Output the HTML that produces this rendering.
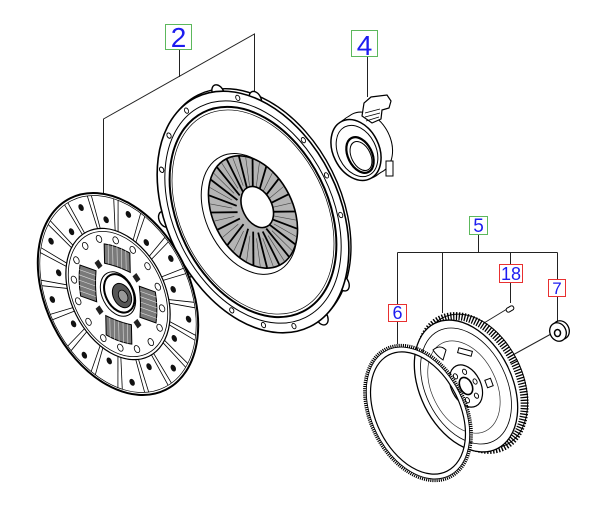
<!DOCTYPE html>
<html><head><meta charset="utf-8"><style>
html,body{margin:0;padding:0;background:#fff;}
svg{display:block}
text{font-family:"Liberation Sans",Arial,sans-serif;fill:#1c1cf0;text-anchor:middle}
</style></head><body>
<svg width="600" height="511" viewBox="0 0 600 511" xmlns="http://www.w3.org/2000/svg">
<defs>
<line id="rl" x1="0.65" y1="0" x2="0.975" y2="0" stroke="#000" stroke-width="0.8" vector-effect="non-scaling-stroke"/>
<g id="rp"><use href="#rl" transform="rotate(-1.6)"/><use href="#rl" transform="rotate(1.6)"/></g>
<circle id="d1" cx="0.74" cy="0" r="0.034" fill="#111"/>
<circle id="d2" cx="0.88" cy="0" r="0.034" fill="#111"/>
<circle id="h1" cx="0.55" cy="0" r="0.035" fill="#fff" stroke="#000" stroke-width="0.8" vector-effect="non-scaling-stroke"/>
<g id="sp">
<path d="M0.27,-0.16 L0.47,-0.16 Q0.5,0 0.47,0.16 L0.27,0.16 Q0.29,0 0.27,-0.16 Z" fill="#7a7a7a" stroke="#000" stroke-width="1" vector-effect="non-scaling-stroke"/>
<path d="M0.28,-0.11 L0.48,-0.11 M0.28,-0.055 L0.485,-0.055 M0.285,0 L0.49,0 M0.28,0.055 L0.485,0.055 M0.28,0.11 L0.48,0.11" stroke="#ddd" stroke-width="0.6" fill="none" vector-effect="non-scaling-stroke"/>
</g>
<rect id="rv" x="0.3" y="-0.035" width="0.07" height="0.07" fill="#222"/>
<circle id="ph" cx="0.955" cy="0" r="0.022" fill="#fff" stroke="#000" stroke-width="0.9" vector-effect="non-scaling-stroke"/>
<line id="pf" x1="0.17" y1="0" x2="0.46" y2="0" stroke="#000" stroke-width="1.8" vector-effect="non-scaling-stroke"/>
<line id="pf2" x1="0.22" y1="0" x2="0.46" y2="0" stroke="#444" stroke-width="0.6" vector-effect="non-scaling-stroke"/>
<circle id="lug" cx="0.99" cy="0" r="0.065" fill="#fff" stroke="#000" stroke-width="1.4" vector-effect="non-scaling-stroke"/>
<circle id="fb" cx="0.22" cy="0" r="0.04" fill="#fff" stroke="#000" stroke-width="0.9" vector-effect="non-scaling-stroke"/>
</defs>

<!-- leader lines -->
<g stroke="#222" stroke-width="1" fill="none">
<path d="M179.5,50 V77 M103.5,196 V119 L254.5,34 V97"/>
<path d="M367.5,57 V97"/>
<path d="M478.5,234 V252.5 M397.5,252.5 H557.5 M397.5,252.5 V304 M442.5,252.5 V313 M510.5,252.5 V264 M557.5,252.5 V279"/>
<path d="M510.5,283 V303 M557.5,297 V322 M397.5,322 V344"/>
<path d="M507,309 L484,323 M551,334 L511,356"/>
</g>

<!-- pressure plate -->
<g transform="translate(253 212) rotate(-26.5) scale(86 128)">
<circle cx="0.035" cy="-0.01" r="1" fill="#fff" stroke="#000" stroke-width="1.4" vector-effect="non-scaling-stroke"/>
<use href="#lug" transform="rotate(-75)"/><use href="#lug" transform="rotate(-52)"/><use href="#lug" transform="rotate(55)"/>
<use href="#lug" transform="rotate(80)"/><use href="#lug" transform="rotate(170)"/><use href="#lug" transform="rotate(195)"/>
<circle r="1" fill="#fff" stroke="#000" stroke-width="1.6" vector-effect="non-scaling-stroke"/>
<circle r="0.92" fill="none" stroke="#000" stroke-width="1" vector-effect="non-scaling-stroke"/>
<use href="#ph" transform="rotate(0)"/><use href="#ph" transform="rotate(20)"/><use href="#ph" transform="rotate(-20)"/>
<use href="#ph" transform="rotate(-100)"/><use href="#ph" transform="rotate(-120)"/><use href="#ph" transform="rotate(120)"/>
<use href="#ph" transform="rotate(140)"/><use href="#ph" transform="rotate(100)"/><use href="#ph" transform="rotate(220)"/>
<use href="#ph" transform="rotate(240)"/><use href="#ph" transform="rotate(-140)"/><use href="#ph" transform="rotate(-63)"/>
<circle r="0.87" fill="#fff" stroke="#000" stroke-width="2" vector-effect="non-scaling-stroke"/>
<circle r="0.845" fill="none" stroke="#000" stroke-width="0.7" vector-effect="non-scaling-stroke"/>
<circle cx="-0.05" r="0.5" fill="none" stroke="#000" stroke-width="1" vector-effect="non-scaling-stroke"/>
<circle r="0.465" fill="#b4b4b4" stroke="#000" stroke-width="1.6" vector-effect="non-scaling-stroke"/>
<use href="#pf" transform="rotate(0)"/><use href="#pf" transform="rotate(18)"/><use href="#pf" transform="rotate(36)"/>
<use href="#pf" transform="rotate(54)"/><use href="#pf" transform="rotate(72)"/><use href="#pf" transform="rotate(90)"/>
<use href="#pf" transform="rotate(108)"/><use href="#pf" transform="rotate(126)"/><use href="#pf" transform="rotate(144)"/>
<use href="#pf" transform="rotate(162)"/><use href="#pf" transform="rotate(180)"/><use href="#pf" transform="rotate(198)"/>
<use href="#pf" transform="rotate(216)"/><use href="#pf" transform="rotate(234)"/><use href="#pf" transform="rotate(252)"/>
<use href="#pf" transform="rotate(270)"/><use href="#pf" transform="rotate(288)"/><use href="#pf" transform="rotate(306)"/>
<use href="#pf" transform="rotate(324)"/><use href="#pf" transform="rotate(342)"/>
<use href="#pf2" transform="rotate(9)"/><use href="#pf2" transform="rotate(27)"/><use href="#pf2" transform="rotate(45)"/>
<use href="#pf2" transform="rotate(63)"/><use href="#pf2" transform="rotate(81)"/><use href="#pf2" transform="rotate(99)"/>
<use href="#pf2" transform="rotate(117)"/><use href="#pf2" transform="rotate(135)"/><use href="#pf2" transform="rotate(153)"/>
<use href="#pf2" transform="rotate(171)"/><use href="#pf2" transform="rotate(189)"/><use href="#pf2" transform="rotate(207)"/>
<use href="#pf2" transform="rotate(225)"/><use href="#pf2" transform="rotate(243)"/><use href="#pf2" transform="rotate(261)"/>
<use href="#pf2" transform="rotate(279)"/><use href="#pf2" transform="rotate(297)"/><use href="#pf2" transform="rotate(315)"/>
<use href="#pf2" transform="rotate(333)"/><use href="#pf2" transform="rotate(351)"/>
<circle cx="0.07" cy="-0.02" r="0.17" fill="#fff" stroke="#000" stroke-width="1.6" vector-effect="non-scaling-stroke"/>
</g>

<!-- release bearing -->
<g stroke="#000" stroke-width="2" fill="none">
<ellipse cx="367" cy="143" rx="23" ry="32" transform="rotate(-26.5 367 143)"/>
<ellipse cx="363" cy="145.5" rx="23" ry="32" transform="rotate(-26.5 363 145.5)"/>
<ellipse cx="359.5" cy="148" rx="23" ry="32" transform="rotate(-26.5 359.5 148)"/>
</g>
<g fill="#fff" stroke="none">
<ellipse cx="367" cy="143" rx="23" ry="32" transform="rotate(-26.5 367 143)"/>
<ellipse cx="363" cy="145.5" rx="23" ry="32" transform="rotate(-26.5 363 145.5)"/>
<ellipse cx="359.5" cy="148" rx="23" ry="32" transform="rotate(-26.5 359.5 148)"/>
</g>
<g stroke="#000" fill="#fff">
<polygon points="362,116 364,103 371,97 387,95 391,101 389,108 382,110 381,119 372,123" stroke-width="1.2"/>
<path d="M365,113 L380,109 M365,117 L380,113 M366,121 L379,117" stroke-width="0.8" fill="none"/>
<rect x="386" y="161" width="7" height="15" stroke-width="1"/>
<ellipse cx="356" cy="150" rx="23" ry="32" transform="rotate(-26.5 356 150)" stroke-width="1.5"/>
<ellipse cx="357" cy="151" rx="19" ry="27" transform="rotate(-26.5 357 151)" fill="none" stroke-width="1"/>
<ellipse cx="360" cy="155" rx="12" ry="19" transform="rotate(-26.5 360 155)" stroke-width="2.2"/>
<ellipse cx="361" cy="156" rx="9.5" ry="15.5" transform="rotate(-26.5 361 156)" fill="none" stroke-width="1"/>
</g>

<!-- clutch disc -->
<g transform="translate(118 294) rotate(-26.5) scale(72 107)">
<circle r="1" fill="#fff" stroke="#000" stroke-width="2" vector-effect="non-scaling-stroke"/>
<circle r="0.975" fill="none" stroke="#000" stroke-width="0.7" vector-effect="non-scaling-stroke"/>
<use href="#rp" transform="rotate(5)"/><use href="#rp" transform="rotate(25)"/><use href="#rp" transform="rotate(45)"/>
<use href="#rp" transform="rotate(65)"/><use href="#rp" transform="rotate(85)"/><use href="#rp" transform="rotate(105)"/>
<use href="#rp" transform="rotate(125)"/><use href="#rp" transform="rotate(145)"/><use href="#rp" transform="rotate(165)"/>
<use href="#rp" transform="rotate(185)"/><use href="#rp" transform="rotate(205)"/><use href="#rp" transform="rotate(225)"/>
<use href="#rp" transform="rotate(245)"/><use href="#rp" transform="rotate(265)"/><use href="#rp" transform="rotate(285)"/>
<use href="#rp" transform="rotate(305)"/><use href="#rp" transform="rotate(325)"/><use href="#rp" transform="rotate(345)"/>
<use href="#d1" transform="rotate(15)"/><use href="#d2" transform="rotate(35)"/><use href="#d1" transform="rotate(55)"/>
<use href="#d2" transform="rotate(75)"/><use href="#d1" transform="rotate(95)"/><use href="#d2" transform="rotate(115)"/>
<use href="#d1" transform="rotate(135)"/><use href="#d2" transform="rotate(155)"/><use href="#d1" transform="rotate(175)"/>
<use href="#d2" transform="rotate(195)"/><use href="#d1" transform="rotate(215)"/><use href="#d2" transform="rotate(235)"/>
<use href="#d1" transform="rotate(255)"/><use href="#d2" transform="rotate(275)"/><use href="#d1" transform="rotate(295)"/>
<use href="#d2" transform="rotate(315)"/><use href="#d1" transform="rotate(335)"/><use href="#d2" transform="rotate(355)"/>
<circle r="0.65" fill="#fff" stroke="#000" stroke-width="1.2" vector-effect="non-scaling-stroke"/>
<circle r="0.62" fill="none" stroke="#000" stroke-width="0.8" vector-effect="non-scaling-stroke"/>
<use href="#h1" transform="rotate(11)"/><use href="#h1" transform="rotate(33.5)"/><use href="#h1" transform="rotate(56)"/>
<use href="#h1" transform="rotate(78.5)"/><use href="#h1" transform="rotate(101)"/><use href="#h1" transform="rotate(123.5)"/>
<use href="#h1" transform="rotate(146)"/><use href="#h1" transform="rotate(168.5)"/><use href="#h1" transform="rotate(191)"/>
<use href="#h1" transform="rotate(213.5)"/><use href="#h1" transform="rotate(236)"/><use href="#h1" transform="rotate(258.5)"/>
<use href="#h1" transform="rotate(281)"/><use href="#h1" transform="rotate(303.5)"/><use href="#h1" transform="rotate(326)"/>
<use href="#h1" transform="rotate(348.5)"/>
<use href="#sp" transform="rotate(-55)"/><use href="#sp" transform="rotate(35)"/>
<use href="#sp" transform="rotate(125)"/><use href="#sp" transform="rotate(215)"/>
<use href="#rv" transform="rotate(-10)"/><use href="#rv" transform="rotate(80)"/>
<use href="#rv" transform="rotate(170)"/><use href="#rv" transform="rotate(260)"/>
<circle r="0.22" fill="#fff" stroke="#000" stroke-width="1" vector-effect="non-scaling-stroke"/>
<circle cx="0.02" r="0.19" fill="#fff" stroke="#000" stroke-width="2" vector-effect="non-scaling-stroke"/>
<circle cx="0.04" cy="0.03" r="0.12" fill="#555" stroke="#000" stroke-width="1" vector-effect="non-scaling-stroke"/>
<circle cx="0.05" cy="0.04" r="0.06" fill="#999" stroke="#000" stroke-width="0.8" vector-effect="non-scaling-stroke"/>
</g>

<!-- flywheel -->
<ellipse cx="475" cy="381" rx="47" ry="71" transform="rotate(-26.5 475 381)" fill="#fff" stroke="#000" stroke-width="1"/>
<ellipse cx="472" cy="383" rx="47" ry="71" transform="rotate(-26.5 472 383)" fill="none" stroke="#000" stroke-width="8" stroke-dasharray="1.3 1.5"/>
<ellipse cx="466" cy="386" rx="46" ry="70" transform="rotate(-26.5 466 386)" fill="#fff" stroke="#000" stroke-width="1.3"/>
<g transform="translate(466 386) rotate(-26.5) scale(46 70)">
<circle r="0.88" fill="none" stroke="#000" stroke-width="0.8" vector-effect="non-scaling-stroke"/>
<circle cx="-0.05" r="0.7" fill="none" stroke="#333" stroke-width="0.7" vector-effect="non-scaling-stroke"/>
<circle r="0.32" fill="#fff" stroke="#000" stroke-width="1.2" vector-effect="non-scaling-stroke"/>
<use href="#fb" transform="rotate(0)"/><use href="#fb" transform="rotate(60)"/><use href="#fb" transform="rotate(120)"/>
<use href="#fb" transform="rotate(180)"/><use href="#fb" transform="rotate(240)"/><use href="#fb" transform="rotate(300)"/>
<circle r="0.13" fill="#fff" stroke="#000" stroke-width="1.6" vector-effect="non-scaling-stroke"/>
</g>
<g fill="#fff" stroke="#000" stroke-width="1">
<rect x="-7" y="-2.5" width="14" height="5" transform="translate(465 352) rotate(15)"/>
<rect x="-3" y="-4" width="6" height="8" transform="translate(489 383) rotate(-20)"/>
<path d="M433,350 Q440,344 446,350 L443,360 Q437,356 433,350 Z"/>
</g>

<!-- ring gear -->
<ellipse cx="418" cy="413" rx="44" ry="67.5" transform="rotate(-26.5 418 413)" fill="none" stroke="#fff" stroke-width="5"/>
<ellipse cx="418" cy="413" rx="47.5" ry="71.5" transform="rotate(-26.5 418 413)" fill="none" stroke="#000" stroke-width="3.5" stroke-dasharray="1.1 1"/>
<ellipse cx="418" cy="413" rx="46" ry="70" transform="rotate(-26.5 418 413)" fill="none" stroke="#000" stroke-width="0.8"/>
<ellipse cx="418" cy="413" rx="42" ry="65" transform="rotate(-26.5 418 413)" fill="none" stroke="#000" stroke-width="1.2"/>

<!-- washer 7 -->
<ellipse cx="561" cy="330" rx="8" ry="9.5" transform="rotate(-26.5 561 330)" fill="#fff" stroke="#000" stroke-width="1.3"/>
<ellipse cx="558" cy="332" rx="8" ry="9.5" transform="rotate(-26.5 558 332)" fill="#fff" stroke="#000" stroke-width="1.3"/>
<ellipse cx="557.5" cy="333" rx="3" ry="3.5" fill="#fff" stroke="#000" stroke-width="1.5"/>
<!-- pin 18 -->
<rect x="-4" y="-2.2" width="8" height="4.4" rx="2" transform="translate(510 309) rotate(-30)" fill="#fff" stroke="#000" stroke-width="1"/>

<!-- labels -->
<g fill="#fff" stroke-width="1">
<rect x="165.5" y="24.5" width="26" height="25" stroke="#5cb85c"/>
<rect x="351.5" y="30.5" width="26" height="26" stroke="#5cb85c"/>
<rect x="469.5" y="216.5" width="18" height="18" stroke="#5cb85c"/>
<rect x="499.5" y="264.5" width="23" height="18" stroke="#e83030"/>
<rect x="548.5" y="279.5" width="17" height="17" stroke="#e83030"/>
<rect x="388.5" y="304.5" width="18" height="17" stroke="#e83030"/>
</g>
<text x="178.5" y="47" font-size="28">2</text>
<text x="364.5" y="55" font-size="28">4</text>
<text x="478.5" y="232" font-size="19">5</text>
<text x="511" y="280" font-size="18">18</text>
<text x="557" y="294" font-size="17">7</text>
<text x="397.5" y="319" font-size="18">6</text>
</svg>
</body></html>
